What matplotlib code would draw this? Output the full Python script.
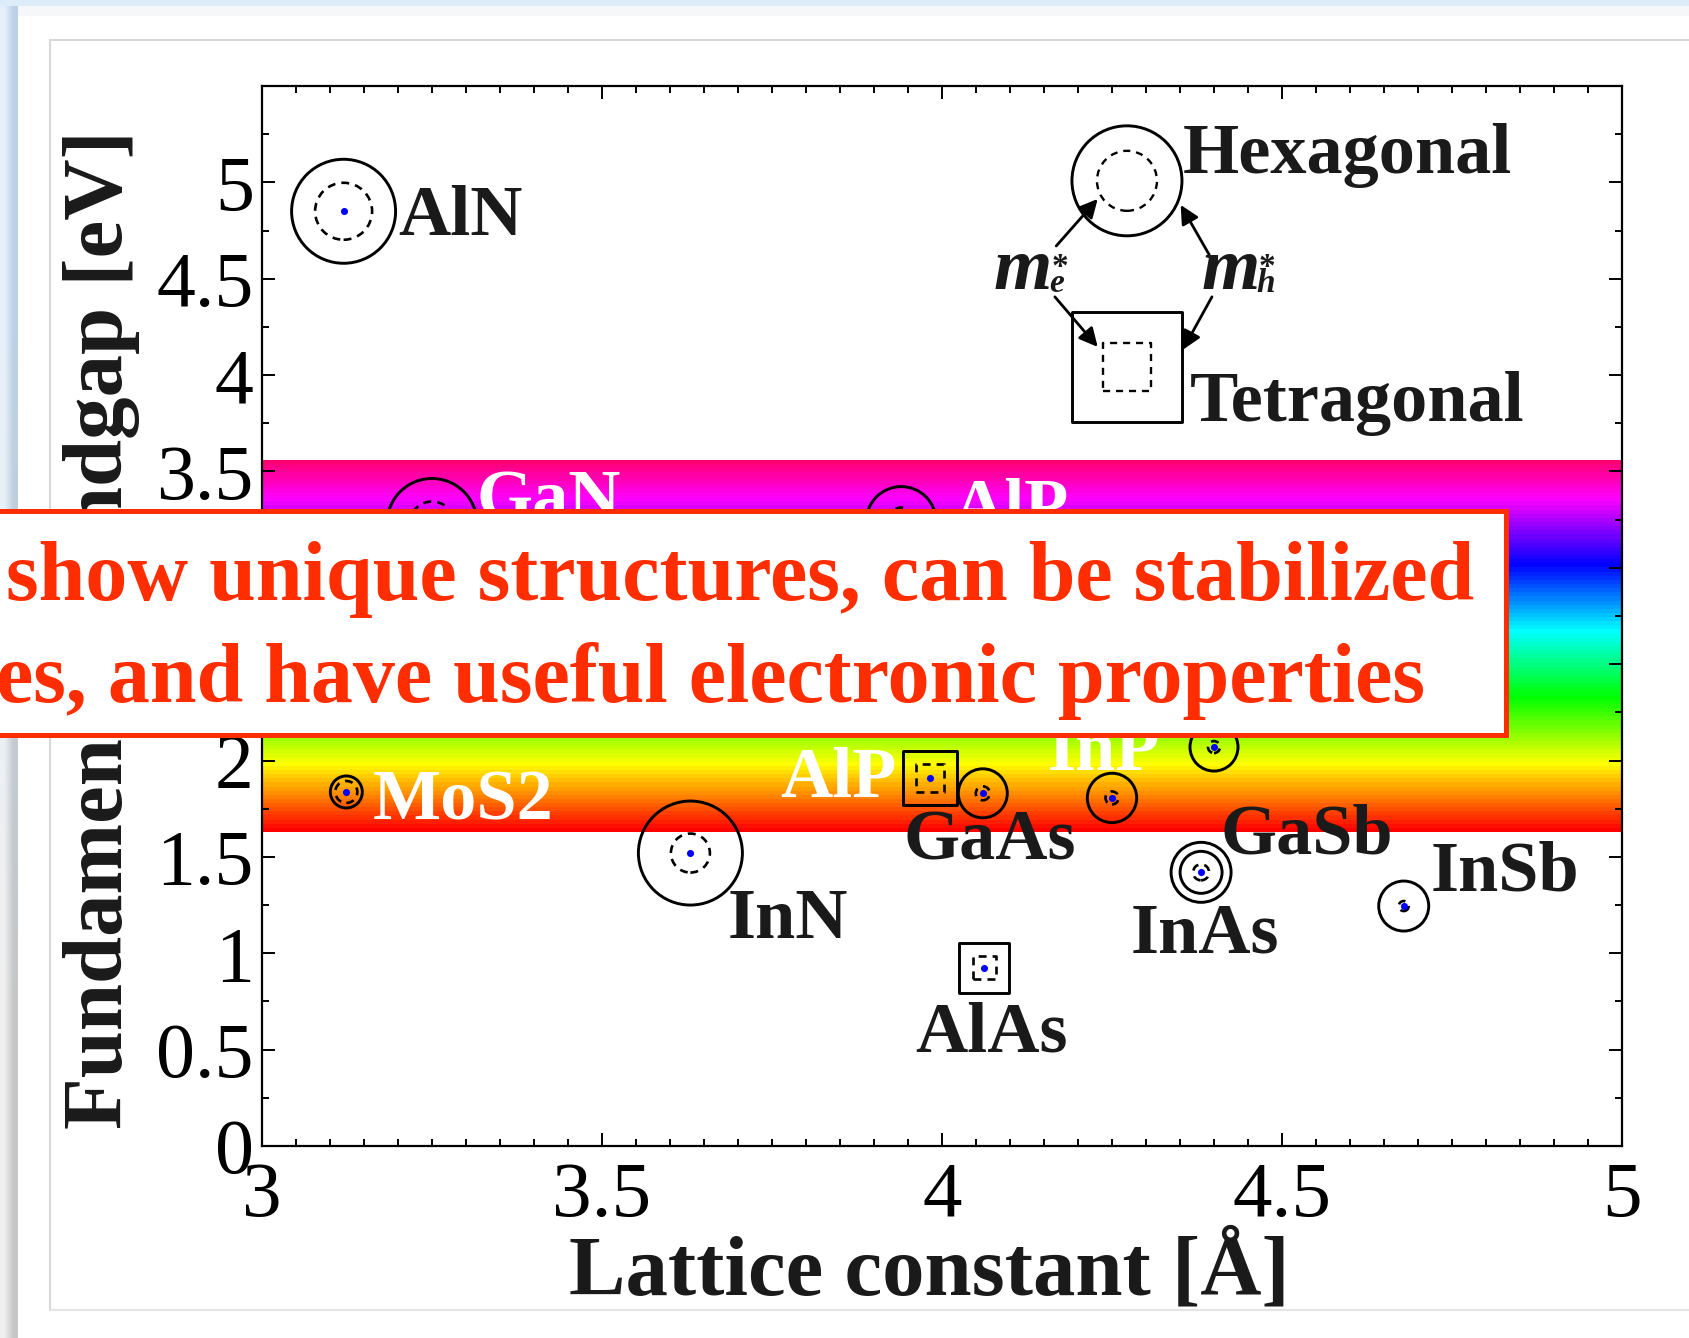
import numpy as np
import matplotlib
matplotlib.use('Agg')
import matplotlib.pyplot as plt
from matplotlib.colors import hsv_to_rgb
from matplotlib.patches import Rectangle
from matplotlib.ticker import MultipleLocator, FixedLocator, FixedFormatter

plt.rcParams['font.family'] = ['Liberation Serif', 'DejaVu Serif']

# ---------------- data ----------------
# hexagonal structures (circles)
hex_lattice = [3.12, 3.25, 3.94, 3.124, 3.63, 4.06, 4.25, 4.40, 4.381, 4.679]
hex_gap     = [4.85, 3.23, 3.24, 1.837, 1.52, 1.83, 1.806, 2.07, 1.42, 1.245]
hex_outer_px = [52, 45, 35, 16, 52, 24.5, 24.7, 24, 30, 25]
hex_inner_px = [28.5, 22, 14, 11, 19.5, 7, 6.5, 6, 8, 5]
# second solid ring (double circle)
ring2_lattice = [4.381]
ring2_gap = [1.42]
ring2_px = [21]

# tetragonal structures (squares)
tet_lattice = [3.982, 4.062]
tet_gap     = [1.91, 0.924]
tet_outer_px = [54, 50]
tet_inner_px = [28, 23]

# labels
label_text  = ['AlN', 'GaN', 'AlP', 'MoS2', 'InN', 'AlP', 'GaAs', 'InP', 'GaSb', 'InAs', 'InSb', 'AlAs']
label_x     = [3.201, 3.316, 4.015, 3.163, 3.685, 3.762, 3.943, 4.156, 4.410, 4.278, 4.718, 3.960]
label_y     = [4.727, 3.250, 3.207, 1.692, 1.079, 1.811, 1.484, 1.951, 1.520, 1.002, 1.328, 0.488]
label_color = ['#1a1a1a', 'white', 'white', 'white', '#1a1a1a', 'white', '#1a1a1a', 'white',
               '#1a1a1a', '#1a1a1a', '#1a1a1a', '#1a1a1a']

# visible-spectrum band [eV]
band_low, band_high = 1.63, 3.56
band_hue_top = 0.925
band_steps = 90

# axes
xlim = (3, 5)
ylim = (0, 5.5)
xticks = [3, 3.5, 4, 4.5, 5]
xticklabels = ['3', '3.5', '4', '4.5', '5']
yticks = [0, 0.5, 1, 1.5, 2, 2.5, 3, 3.5, 4, 4.5, 5]
yticklabels = ['0', '0.5', '1', '1.5', '2', '2.5', '3', '3.5', '4', '4.5', '5']

# schematic legend
leg_hex = (4.272, 5.008)
leg_tet = (4.272, 4.04)
leg_hex_px = (55, 30)
leg_tet_px = (110, 48)
arrows = [((4.168, 4.670), (4.229, 4.914)),
          ((4.166, 4.406), (4.229, 4.146)),
          ((4.393, 4.624), (4.351, 4.883)),
          ((4.397, 4.406), (4.354, 4.131))]
mass_labels = [('e', 4.0765, 4.447), ('h', 4.381, 4.447)]

DPI = 100
W, H = 1690, 1338
fig = plt.figure(figsize=(W / DPI, H / DPI), dpi=DPI, facecolor='white')

# --------- slide background decoration ---------
bg = fig.add_axes([0, 0, 1, 1], zorder=-10)
bg.set_xlim(0, W)
bg.set_ylim(H, 0)
bg.axis('off')
strip = np.array([[[0.90, 0.94, 0.98], [0.74, 0.82, 0.90]],
                  [[0.94, 0.94, 0.94], [0.78, 0.78, 0.78]]])
bg.imshow(strip, extent=[0, 18, H, 0], aspect='auto', interpolation='bilinear')
bg.add_patch(Rectangle((0, 0), W, 6, color='#dcecf9', lw=0))
bg.add_patch(Rectangle((18, 6), W, 10, color='#f6f7f8', lw=0))
bg.plot([50, 50], [40, 1310], color='#d8d8d8', lw=1.5)
bg.plot([50, W], [40, 40], color='#d8d8d8', lw=1.5)
bg.plot([50, W], [1310, 1310], color='#e4e4e4', lw=1.5)

# --------- main axes ---------
ax = fig.add_axes([262 / W, 1 - 1146 / H, (1622 - 262) / W, (1146 - 86) / H])
ax.set_xlim(*xlim)
ax.set_ylim(*ylim)

hues = np.linspace(0, band_hue_top, band_steps)
hsv = np.stack([hues, np.ones_like(hues), np.ones_like(hues)], axis=-1)[:, None, :]
ax.imshow(hsv_to_rgb(hsv), extent=[xlim[0], xlim[1], band_low, band_high],
          origin='lower', aspect='auto', interpolation='nearest', zorder=1)

def s_of(px):
    return (2 * np.asarray(px) * 72 / DPI) ** 2

def side_of(px):
    return (np.asarray(px) * 72 / DPI) ** 2

dash = (0, (3, 2.3))
ax.scatter(hex_lattice, hex_gap, s=s_of(hex_outer_px), marker='o', facecolors='none',
           edgecolors='black', linewidths=2.1, zorder=3)
ax.scatter(ring2_lattice, ring2_gap, s=s_of(ring2_px), marker='o', facecolors='none',
           edgecolors='black', linewidths=2.1, zorder=3)
ax.scatter(hex_lattice, hex_gap, s=s_of(hex_inner_px), marker='o', facecolors='none',
           edgecolors='black', linewidths=1.9, linestyles=dash, zorder=3)
ax.scatter(tet_lattice, tet_gap, s=side_of(tet_outer_px), marker='s', facecolors='none',
           edgecolors='black', linewidths=2.1, zorder=3)
ax.scatter(tet_lattice, tet_gap, s=side_of(tet_inner_px), marker='s', facecolors='none',
           edgecolors='black', linewidths=1.9, linestyles=dash, zorder=3)
ax.scatter(hex_lattice + tet_lattice, hex_gap + tet_gap, s=26, marker='o',
           color='#0000ff', linewidths=0, zorder=4)

for t, x, y, c in zip(label_text, label_x, label_y, label_color):
    ax.text(x, y, t, color=c, fontsize=52, fontweight='bold', ha='left', va='baseline', zorder=5)

# schematic
ax.scatter([leg_hex[0]], [leg_hex[1]], s=s_of(leg_hex_px[0]), marker='o', facecolors='none',
           edgecolors='black', linewidths=2.1, zorder=3)
ax.scatter([leg_hex[0]], [leg_hex[1]], s=s_of(leg_hex_px[1]), marker='o', facecolors='none',
           edgecolors='black', linewidths=1.7, linestyles=(0, (3, 2.5)), zorder=3)
ax.scatter([leg_tet[0]], [leg_tet[1]], s=side_of(leg_tet_px[0]), marker='s', facecolors='none',
           edgecolors='black', linewidths=2.1, zorder=3)
ax.scatter([leg_tet[0]], [leg_tet[1]], s=side_of(leg_tet_px[1]), marker='s', facecolors='none',
           edgecolors='black', linewidths=1.7, linestyles=(0, (3, 2.5)), zorder=3)
for (x0, y0), (x1, y1) in arrows:
    ax.annotate('', xy=(x1, y1), xytext=(x0, y0),
                arrowprops=dict(arrowstyle='-|>', color='black', lw=2.0, mutation_scale=28,
                                shrinkA=0, shrinkB=0), zorder=4)
ax.text(4.354, 5.049, 'Hexagonal', fontsize=52, fontweight='bold', color='#1a1a1a',
        ha='left', va='baseline', zorder=5)
ax.text(4.364, 3.762, 'Tetragonal', fontsize=52, fontweight='bold', color='#1a1a1a',
        ha='left', va='baseline', zorder=5)
for sub, x, y in mass_labels:
    ax.text(x, y, 'm', fontsize=54, fontweight='bold', fontstyle='italic', color='#1a1a1a',
            ha='left', va='baseline', zorder=5)
    ax.annotate(sub, xy=(x, y), xytext=(40, -2), textcoords='offset points', fontsize=24,
                fontweight='bold', fontstyle='italic', color='#1a1a1a',
                ha='left', va='baseline', zorder=5)
    ax.annotate('*', xy=(x, y), xytext=(41.5, 9), textcoords='offset points', fontsize=24,
                fontweight='bold', color='#1a1a1a', ha='left', va='baseline', zorder=5)

# ticks
ax.xaxis.set_major_locator(FixedLocator(xticks))
ax.xaxis.set_major_formatter(FixedFormatter(xticklabels))
ax.yaxis.set_major_locator(FixedLocator(yticks))
ax.yaxis.set_major_formatter(FixedFormatter(yticklabels))
ax.xaxis.set_minor_locator(MultipleLocator(0.05))
ax.yaxis.set_minor_locator(MultipleLocator(0.25))
ax.tick_params(which='both', direction='in', top=True, right=True, width=1.4, color='black')
ax.tick_params(which='major', length=9.5)
ax.tick_params(which='minor', length=5)
ax.tick_params(axis='x', which='major', labelsize=57, pad=11)
ax.tick_params(axis='y', which='major', labelsize=56, pad=6)
for sp in ax.spines.values():
    sp.set_linewidth(1.6)
    sp.set_zorder(6)

fig.text(929 / W, 1 - 1295 / H, 'Lattice constant [Å]', fontsize=61, fontweight='bold',
         color='#1a1a1a', ha='center', va='baseline')
fig.text(102 / W, 1 - 630 / H, 'Fundamental bandgap [eV]', fontsize=61, fontweight='bold',
         color='#1a1a1a', ha='center', va='center', rotation=90)

# overlay callout box
red = '#ff2d00'
fig.add_artist(Rectangle((-0.05, 1 - 734.5 / H), 1506.5 / W + 0.05, (734.5 - 510.5) / H,
                         transform=fig.transFigure, facecolor='white', edgecolor=red,
                         linewidth=3.6, zorder=10))
fig.text(1474 / W, 1 - 600 / H, 'show unique structures, can be stabilized', fontsize=60.5,
         fontweight='bold', color=red, ha='right', va='baseline', zorder=11)
fig.text(1425 / W, 1 - 702 / H, 'es, and have useful electronic properties', fontsize=60.5,
         fontweight='bold', color=red, ha='right', va='baseline', zorder=11)

fig.savefig('out.png', dpi=DPI, facecolor='white')
